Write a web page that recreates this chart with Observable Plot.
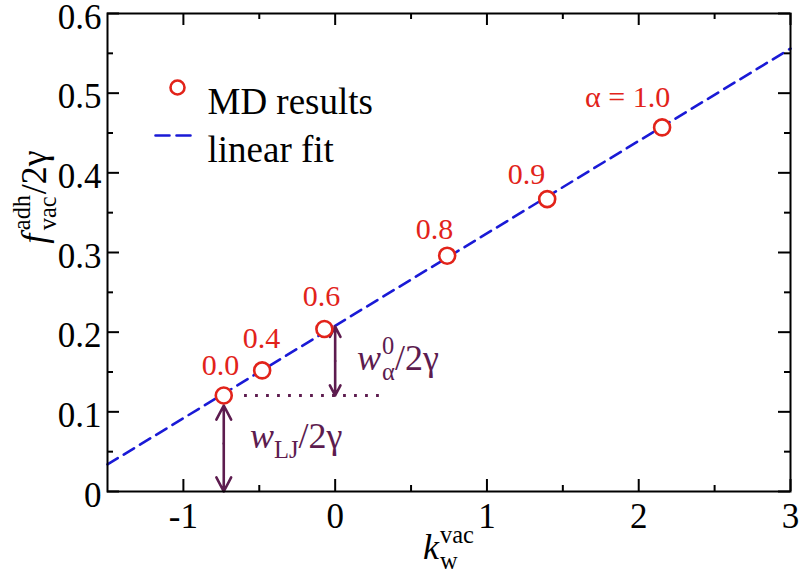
<!DOCTYPE html>
<html><head><meta charset="utf-8">
<script src="https://cdn.jsdelivr.net/npm/d3@7"></script>
<script src="https://cdn.jsdelivr.net/npm/@observablehq/plot@0.6"></script>
<style>html,body{margin:0;padding:0;background:#fff}svg{display:block}
svg text{font-family:'Liberation Serif','Times New Roman',Times,serif !important;}</style>
</head><body><div id="chart"></div>
<script>
// ---- data ----
const alphaLabels = ["0.0", "0.4", "0.6", "0.8", "0.9", "α = 1.0"];
const kVac = [-0.734, -0.481, -0.071, 0.738, 1.397, 2.154];
const fAdh = [0.1205, 0.152, 0.204, 0.296, 0.367, 0.457];
const labelK = [-0.755, -0.485, -0.090, 0.655, 1.261, 1.927];
const labelF = [0.158, 0.192, 0.245, 0.329, 0.398, 0.495];
const fitK = [-1.5, 3];
const fitF = [0.034, 0.556];
const xTicks = [-1, 0, 1, 2, 3];
const xMinor = [-0.5, 0.5, 1.5, 2.5];
const yTicks = [0, 0.1, 0.2, 0.3, 0.4, 0.5, 0.6];
const yMinor = [0.05, 0.15, 0.25, 0.35, 0.45, 0.55];
// annotation arrows: x, lower end, upper end
const arrowK = [-0.734, 0];
const arrowLow = [0, 0.1205];
const arrowHigh = [0.1205, 0.207];
// dotted reference level
const levelF = 0.1205;
const levelK = [-0.597, 0.30];
// annotation text anchors (start, baseline)
const annoK = [-0.558, 0.147];
const annoF = [0.054, 0.152];

const RED = "#e2231a", BLUE = "#1a1ad6", PURPLE = "#5d1c4f";
const FONT = "'Liberation Serif', 'Times New Roman', Times, serif";
const idx = d3.range(kVac.length);
const fitIdx = d3.range(fitK.length);
const arrIdx = d3.range(arrowK.length);

const lineShape = {draw(ctx, l) { ctx.moveTo(0, 0); ctx.lineTo(0, -l); }};
const arrowOpts = {stroke: PURPLE, strokeWidth: 2.6, headLength: 21, headAngle: 55};
const mid = i => (arrowLow[i] + arrowHigh[i]) / 2;

const plot = Plot.plot({
  width: 801, height: 570,
  marginLeft: 107, marginRight: 11, marginTop: 13, marginBottom: 79,
  style: {fontFamily: FONT, fontSize: "34px", background: "#fff", color: "#000"},
  x: {domain: [-1.5, 3]},
  y: {domain: [0, 0.6]},
  marks: [
    Plot.line(fitIdx, {x: i => fitK[i], y: i => fitF[i], stroke: BLUE, strokeWidth: 2.6, strokeDasharray: "12,7"}),
    Plot.ruleY([levelF], {x1: levelK[0], x2: levelK[1], stroke: PURPLE, strokeWidth: 2.8, strokeDasharray: "2.8,8.2"}),
    // double-headed arrows: from the middle to each end
    Plot.arrow(arrIdx, {x1: i => arrowK[i], x2: i => arrowK[i], y1: mid, y2: i => arrowLow[i], ...arrowOpts}),
    Plot.arrow([0], {x1: i => arrowK[i], x2: i => arrowK[i], y1: mid, y2: i => arrowHigh[i], insetEnd: 10, ...arrowOpts}),
    Plot.arrow([1], {x1: i => arrowK[i], x2: i => arrowK[i], y1: mid, y2: i => arrowHigh[i], ...arrowOpts}),
    Plot.dot(idx, {x: i => kVac[i], y: i => fAdh[i], r: 8, stroke: RED, strokeWidth: 2.6, fill: "white"}),
    Plot.text(idx, {x: i => labelK[i], y: i => labelF[i], text: i => alphaLabels[i], fill: RED, fontSize: 30}),
    Plot.ruleX(xTicks, {x: d => d, y1: 0, y2: 0, insetTop: -12, strokeWidth: 2}),
    Plot.ruleX(xMinor, {x: d => d, y1: 0, y2: 0, insetTop: -6, strokeWidth: 2}),
    Plot.ruleX(xTicks, {x: d => d, y1: 0.6, y2: 0.6, insetBottom: -12, strokeWidth: 2}),
    Plot.ruleX(xMinor, {x: d => d, y1: 0.6, y2: 0.6, insetBottom: -6, strokeWidth: 2}),
    Plot.ruleY(yTicks, {y: d => d, x1: -1.5, x2: -1.5, insetRight: -12, strokeWidth: 2}),
    Plot.ruleY(yMinor, {y: d => d, x1: -1.5, x2: -1.5, insetRight: -6, strokeWidth: 2}),
    Plot.ruleY(yTicks, {y: d => d, x1: 3, x2: 3, insetLeft: -12, strokeWidth: 2}),
    Plot.ruleY(yMinor, {y: d => d, x1: 3, x2: 3, insetLeft: -6, strokeWidth: 2}),
    Plot.frame({stroke: "#000", strokeWidth: 2}),
    Plot.axisX({ticks: xTicks, tickSize: 0, tickPadding: 12, tickFormat: d => String(d), label: null, fontSize: 35}),
    Plot.axisY({ticks: yTicks, tickSize: 0, tickPadding: 6, dy: 4, tickFormat: d => String(d), label: null, fontSize: 35}),
    // legend
    Plot.dot([0], {frameAnchor: "top-left", dx: 70, dy: 74, r: 7, stroke: RED, strokeWidth: 2.6, fill: "white"}),
    Plot.text(["MD results"], {frameAnchor: "top-left", dx: 100, dy: 74, text: d => d, textAnchor: "start", fontSize: 37}),
    Plot.vector([0], {frameAnchor: "top-left", dx: 48, dy: 122, length: 35, rotate: 90, anchor: "start", shape: lineShape,
      stroke: BLUE, strokeWidth: 2.6, strokeDasharray: "14,7"}),
    Plot.text(["linear fit"], {frameAnchor: "top-left", dx: 100, dy: 122, text: d => d, textAnchor: "start", fontSize: 37})
  ]
});
document.getElementById("chart").appendChild(plot);

// rich text helper: one <text> with tspans; stacked sub/sup measured
function rich(parent, parts, base, fill) {
  const t = parent.append("text").attr("fill", fill || "#000").attr("font-size", base).attr("text-anchor", "start");
  let lastW = 0, curDy = 0, pad = 0;
  for (const p of parts) {
    const targetDy = (p.dy || 0) * base;
    const ts = t.append("tspan")
      .attr("font-size", base * (p.s || 1))
      .attr("font-style", p.it ? "italic" : "normal")
      .attr("dy", targetDy - curDy)
      .text(p.t);
    curDy = targetDy;
    let dx = (p.dx || 0) * base + pad;
    pad = 0;
    if (p.stack) dx -= lastW;
    if (dx) ts.attr("dx", dx);
    const w = ts.node().getComputedTextLength();
    if (p.stack && lastW > w) pad = lastW - w;
    lastW = w;
  }
  return t;
}

const svg = d3.select(plot);
const sx = plot.scale("x"), sy = plot.scale("y");

// y-axis title
{
  const t = rich(svg, [
    {t: "f", it: true},
    {t: "adh", s: 0.68, dy: -0.45, dx: 0.1},
    {t: "vac", s: 0.68, dy: 0.28, stack: true},
    {t: "/2γ", dy: 0, dx: 0.02}
  ], 36);
  const w = t.node().getBBox().width;
  t.attr("transform", `translate(46,197) rotate(-90) translate(${-w / 2},0)`);
}
// x-axis title
{
  const t = rich(svg, [
    {t: "k", it: true},
    {t: "vac", s: 0.68, dy: -0.45, dx: 0.03},
    {t: "w", s: 0.68, dy: 0.28, stack: true}
  ], 36);
  const w = t.node().getBBox().width;
  t.attr("transform", `translate(${(sx.apply(-1.5) + sx.apply(3)) / 2 - w / 2},559)`);
}
// annotations
{
  const r1 = rich(svg, [
    {t: "w", it: true},
    {t: "LJ", s: 0.68, dy: 0.28},
    {t: "/2γ", dy: 0}
  ], 36, PURPLE);
  r1.attr("transform", `translate(${sx.apply(annoK[0])},${sy.apply(annoF[0])})`);
  const r2 = rich(svg, [
    {t: "w", it: true},
    {t: "0", s: 0.68, dy: -0.45, dx: 0.03},
    {t: "α", s: 0.68, dy: 0.28, stack: true},
    {t: "/2γ", dy: 0}
  ], 36, PURPLE);
  r2.attr("transform", `translate(${sx.apply(annoK[1])},${sy.apply(annoF[1])})`);
}
</script>
</body></html>
